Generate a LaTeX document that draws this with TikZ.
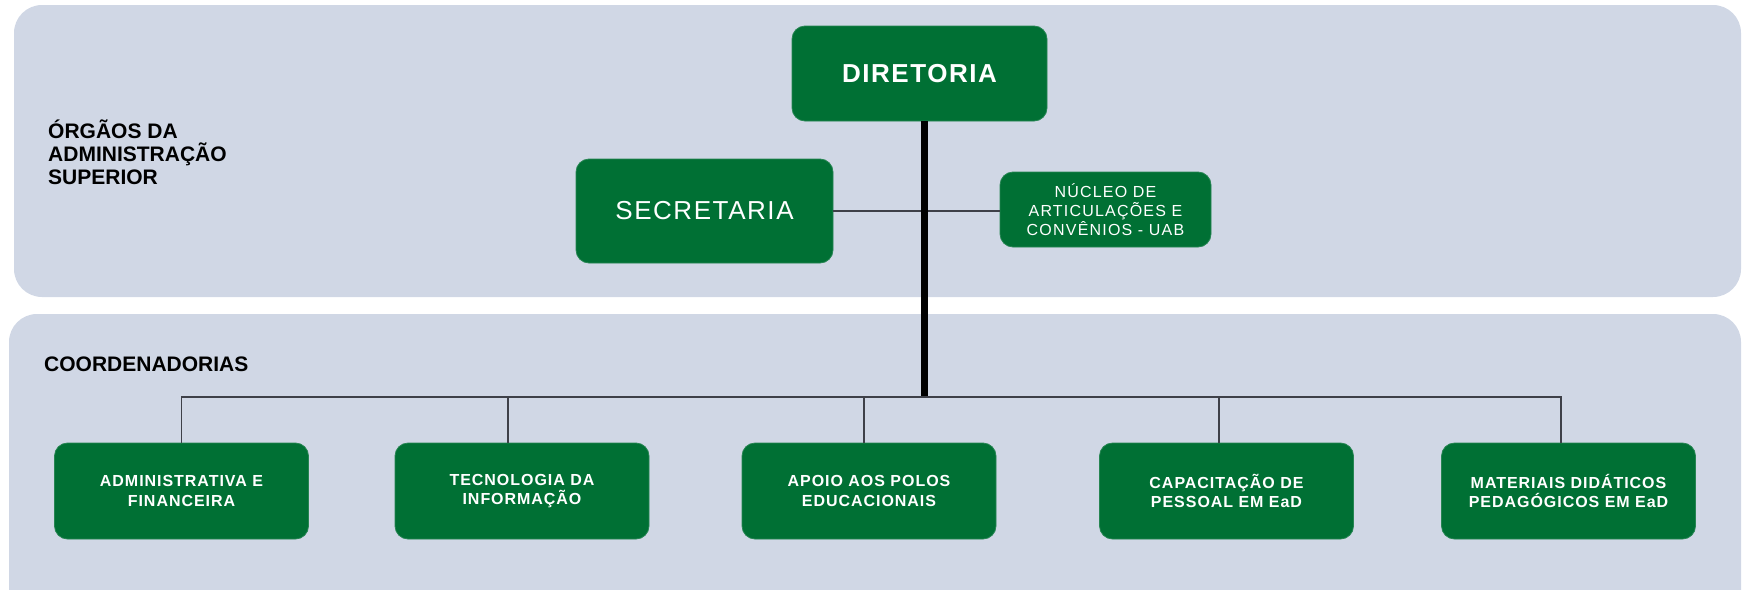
\documentclass[tikz,border=0pt]{standalone}
\usepackage{fontspec}
\setmainfont{Liberation Sans}
\newfontfamily\boxfont[LetterSpace=6]{Liberation Sans}
\newfontfamily\widefont[LetterSpace=7.5]{Liberation Sans}
\usetikzlibrary{positioning}

\definecolor{panelblue}{RGB}{208,215,229}
\definecolor{boxgreen}{RGB}{0,112,52}
\definecolor{linegray}{RGB}{62,64,72}

\tikzset{
  panel/.style={fill=panelblue, rounded corners=28pt},
  unit/.style={fill=boxgreen, draw=boxgreen!85!white, line width=0.8pt,
    rounded corners=13pt, text=white, align=center, inner sep=0pt},
  coordbox/.style={unit, minimum width=254pt, minimum height=96pt,
    font=\boxfont\bfseries\fontsize{16}{19.5}\selectfont},
  link/.style={draw=linegray, line width=1.3pt},
  trunk/.style={draw=black, line width=7pt},
  heading/.style={font=\bfseries\fontsize{21}{23}\selectfont,
    align=left, inner sep=0pt, anchor=base west}
}

\begin{document}
\begin{tikzpicture}[x=1pt, y=-1pt]
    \useasboundingbox (0,0) rectangle (1745,589);

    % Panels
    \fill[panel] (14,5) rectangle (1741,297);
    \fill[panel] (9,314) rectangle (1741,620);

    % Headings
    \node[heading] (orgaos) at (48,184) {ÓRGÃOS DA\\ADMINISTRAÇÃO\\SUPERIOR};
    \node[heading] (coordenadorias) at (44,371) {COORDENADORIAS};

    % Upper level
    \node[unit, minimum width=255pt, minimum height=95pt,
      font=\boxfont\bfseries\fontsize{26}{30}\selectfont] (diretoria) at (919.5,73.5) {DIRETORIA};
    \node[unit, minimum width=257pt, minimum height=104pt,
      font=\boxfont\fontsize{26}{30}\selectfont] (secretaria) at (704.5,211) {SECRETARIA};
    \node[unit, minimum width=211pt, minimum height=75pt,
      font=\widefont\fontsize{16}{19}\selectfont] (nucleo) at (1105.5,209.5)
      {NÚCLEO DE\\ARTICULAÇÕES E\\CONVÊNIOS - UAB};

    % Coordenadorias
    \node[coordbox] (adm) at (181.5,491) {ADMINISTRATIVA E\\FINANCEIRA};
    \node[coordbox] (tec) at (522,491) {TECNOLOGIA DA\\INFORMAÇÃO};
    \node[coordbox] (apoio) at (869,491) {APOIO AOS POLOS\\EDUCACIONAIS};
    \node[coordbox] (cap) at (1226.5,491) {CAPACITAÇÃO DE\\PESSOAL EM EaD};
    \node[coordbox] (mat) at (1568.5,491) {MATERIAIS DIDÁTICOS\\PEDAGÓGICOS EM EaD};

    \coordinate (bus) at (924.5,397);

    % Connectors
    \draw[link] (secretaria.east) -- (secretaria.east -| nucleo.west);
    \draw[link] (adm.north) |- ([xshift=-7.5pt]mat.north |- bus) -- ([xshift=-7.5pt]mat.north);
    \draw[link] ([xshift=-14pt]tec.north) -- ([xshift=-14pt]tec.north |- bus);
    \draw[link] ([xshift=-5pt]apoio.north) -- ([xshift=-5pt]apoio.north |- bus);
    \draw[link] ([xshift=-7.5pt]cap.north) -- ([xshift=-7.5pt]cap.north |- bus);
    \draw[trunk] (diretoria.south -| bus) -- ([yshift=0.6pt]bus);
\end{tikzpicture}
\end{document}
